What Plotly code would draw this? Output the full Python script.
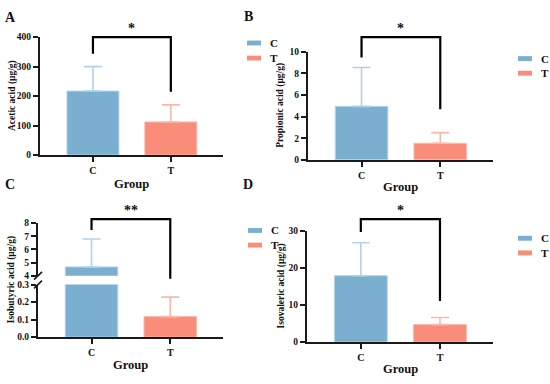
import plotly.graph_objects as go

# ---------------- data ----------------
groups = ["C", "T"]
acetic_mean = [217, 112]
acetic_sd = [83, 58]
propionic_mean = [4.95, 1.53]
propionic_sd = [3.6, 0.99]
isobutyric_mean = [4.67, 0.117]
isobutyric_sd = [2.13, 0.111]
isovaleric_mean = [17.9, 4.7]
isovaleric_sd = [8.9, 1.9]

sig_labels = ["*", "*", "**", "*"]
# bracket levels in data units: [top, C-leg bottom, T-leg bottom]
bracket_A = [400, 344, 215]
bracket_B = [11.35, 9.46, 4.68]
bracket_C = [8.3, 7.48, 3.78]   # upper-segment units
bracket_D = [33.2, 29.7, 11.05]

y_titles = ["Acetic acid (μg/g)", "Propionic acid (μg/g)",
            "Isobutyric acid (μg/g)", "Isovaleric acid (μg/g)"]
panel_letters = ["A", "B", "C", "D"]

# ---------------- style ----------------
W, H = 550, 384
FONT = "Liberation Serif"
colors = ["#7AAFD0", "#FA8D7A"]
err_colors = ["#B3D2E8", "#F9B8AA"]
AX = "#1a1a1a"


def px_y(p):
    return 1 - p / H


def px_x(p):
    return p / W


def to_paper(v, rng, dom):
    return dom[0] + (v - rng[0]) / (rng[1] - rng[0]) * (dom[1] - dom[0])


xr = [-0.68, 1.67]
domA = dict(x=[px_x(40), px_x(223)], y=[px_y(154), px_y(33)])
domB = dict(x=[px_x(308), px_x(493)], y=[px_y(159), px_y(48)])
domC_low = [px_y(341), px_y(287)]
domC_up = [px_y(278), px_y(224)]
domC_x = [px_x(38), px_x(223)]
domD = dict(x=[px_x(307), px_x(493)], y=[px_y(346), px_y(232)])

rngA = [0, 400]
rngB = [0, 10]
rngC_low = [0, 0.3]
rngC_up = [4, 8]
rngD = [0, 30]

fig = go.Figure()


def bar(g, i, val, sd, xa, ya, err=True):
    return go.Bar(
        x=[g], y=[val], name=g, width=0.667,
        marker=dict(color=colors[i], line=dict(color=err_colors[i], width=1)),
        error_y=dict(type="data", array=[sd], arrayminus=[0], symmetric=False,
                     color=err_colors[i], thickness=1.6, width=9, visible=err),
        xaxis=xa, yaxis=ya, showlegend=False,
    )


def add_bars(means, sds, xa, ya):
    for i, g in enumerate(groups):
        fig.add_trace(bar(g, i, means[i], sds[i], xa, ya))


add_bars(acetic_mean, acetic_sd, "x", "y")
add_bars(propionic_mean, propionic_sd, "x2", "y2")
# broken axis panel: lower segment (0-0.3) and upper segment (4-8)
fig.add_trace(bar(groups[0], 0, isobutyric_mean[0], isobutyric_sd[0], "x3", "y3", err=False))
fig.add_trace(bar(groups[1], 1, isobutyric_mean[1], isobutyric_sd[1], "x3", "y3"))
fig.add_trace(bar(groups[0], 0, isobutyric_mean[0], isobutyric_sd[0], "x3", "y5"))
add_bars(isovaleric_mean, isovaleric_sd, "x4", "y4")

tickfont = dict(family=FONT, size=9.5, color="#111", weight="bold")
xtickfont = dict(family=FONT, size=10, color="#111", weight="bold")
xcommon = dict(type="category", range=xr, showline=True, linecolor=AX, linewidth=2,
               ticks="outside", ticklen=5, tickwidth=2, tickcolor=AX, tickfont=xtickfont,
               showgrid=False, zeroline=False, fixedrange=True)
ycommon = dict(showline=True, linecolor=AX, linewidth=2, ticks="outside", ticklen=5,
               tickwidth=2, tickcolor=AX, tickfont=tickfont, showgrid=False,
               zeroline=False, fixedrange=True)

fig.update_layout(
    width=W, height=H, margin=dict(l=0, r=0, t=0, b=0),
    paper_bgcolor="white", plot_bgcolor="white", barmode="overlay",
    font=dict(family=FONT, color="#111"), showlegend=False,
    xaxis=dict(domain=domA["x"], anchor="y", **xcommon),
    yaxis=dict(domain=domA["y"], anchor="x", range=rngA, dtick=100, **ycommon),
    xaxis2=dict(domain=domB["x"], anchor="y2", **xcommon),
    yaxis2=dict(domain=domB["y"], anchor="x2", range=rngB, dtick=2, **ycommon),
    xaxis3=dict(domain=domC_x, anchor="y3", **xcommon),
    yaxis3=dict(domain=domC_low, anchor="x3", range=rngC_low, dtick=0.1,
                tickformat=".1f", **ycommon),
    yaxis5=dict(domain=domC_up, anchor="x3", range=rngC_up, dtick=1, **ycommon),
    xaxis4=dict(domain=domD["x"], anchor="y4", **xcommon),
    yaxis4=dict(domain=domD["y"], anchor="x4", range=rngD, dtick=10, **ycommon),
)

# legends (one per panel): colour key + label
legend_pos = [(247, 39, 15.5), (518, 55, 15), (248, 231.5, 15), (518, 239.5, 15)]
for lx, ly, gap in legend_pos:
    for i, g in enumerate(groups):
        yc = ly + i * gap
        fig.add_shape(type="rect", xref="paper", yref="paper",
                      x0=px_x(lx), x1=px_x(lx + 14), y0=px_y(yc + 2.5), y1=px_y(yc - 2.5),
                      fillcolor=colors[i], line=dict(width=0))
        fig.add_annotation(x=px_x(lx + 21), y=px_y(yc), xref="paper", yref="paper",
                           text=f"<b>{g}</b>", showarrow=False, xanchor="left",
                           yanchor="middle",
                           font=dict(family=FONT, size=11, color="#111"))

# brackets and significance stars
panels = [
    ("x", bracket_A, rngA, domA["y"]),
    ("x2", bracket_B, rngB, domB["y"]),
    ("x3", bracket_C, rngC_up, domC_up),
    ("x4", bracket_D, rngD, domD["y"]),
]
for k, (xa, br, rng, dom) in enumerate(panels):
    top = to_paper(br[0], rng, dom)
    yc = to_paper(br[1], rng, dom)
    yt = to_paper(br[2], rng, dom)
    fig.add_shape(type="path", xref=xa, yref="paper",
                  path=f"M 0,{yc} L 0,{top} L 1,{top} L 1,{yt}",
                  line=dict(color="black", width=2.2))
    fig.add_annotation(x=0.5, xref=xa, y=top, yref="paper", yanchor="bottom",
                       text=f"<b>{sig_labels[k]}</b>", showarrow=False, yshift=-1,
                       font=dict(family=FONT, size=14, color="#111"))

# axis break marks on panel C
for yb in [domC_up[0], domC_low[1]]:
    fig.add_shape(type="line", xref="paper", yref="paper",
                  x0=domC_x[0] - 4 / W, x1=domC_x[0] + 4 / W,
                  y0=yb - 4 / H, y1=yb + 4 / H, line=dict(color=AX, width=1.6))

# y titles
ytitle_pos = [(12, domA["y"]), (281, domB["y"]), (11, [domC_low[0], domC_up[1]]),
              (281, domD["y"])]
for t, (xp, dom) in zip(y_titles, ytitle_pos):
    fig.add_annotation(x=px_x(xp), y=(dom[0] + dom[1]) / 2, xref="paper", yref="paper",
                       text=f"<b>{t}</b>", textangle=-90, showarrow=False,
                       xanchor="center", yanchor="middle",
                       font=dict(family=FONT, size=9.5, color="#111"))

# x titles
xtitle_pos = [(domA["x"], 184), (domB["x"], 187), (domC_x, 370), (domD["x"], 374)]
for dom, yp in xtitle_pos:
    fig.add_annotation(x=(dom[0] + dom[1]) / 2, y=px_y(yp), xref="paper", yref="paper",
                       text="<b>Group</b>", showarrow=False, xanchor="center",
                       yanchor="middle", font=dict(family=FONT, size=12.5, color="#111"))

# panel letters
letter_pos = [(10, 13), (248, 12), (10, 184), (248, 184)]
for L, (xp, yp) in zip(panel_letters, letter_pos):
    fig.add_annotation(x=px_x(xp), y=px_y(yp), xref="paper", yref="paper",
                       text=f"<b>{L}</b>", showarrow=False, xanchor="center",
                       yanchor="middle", font=dict(family=FONT, size=14, color="#111"))

fig.write_html("out.html", config={"displayModeBar": False},
               post_script="document.body.style.margin='0';")
